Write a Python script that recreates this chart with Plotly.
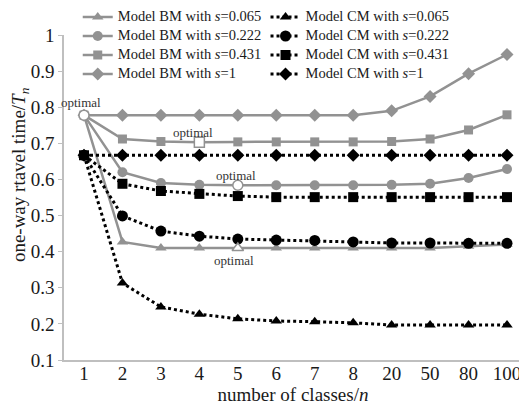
import plotly.graph_objects as go

classes = ["1", "2", "3", "4", "5", "6", "7", "8", "20", "50", "80", "100"]

bm_s0065 = [0.778, 0.427, 0.41, 0.41, 0.41, 0.41, 0.41, 0.41, 0.41, 0.41, 0.415, 0.42]
bm_s0222 = [0.778, 0.62, 0.59, 0.585, 0.584, 0.584, 0.584, 0.584, 0.585, 0.588, 0.604, 0.629]
bm_s0431 = [0.778, 0.712, 0.705, 0.703, 0.704, 0.704, 0.704, 0.704, 0.705, 0.712, 0.737, 0.779]
bm_s1 = [0.778, 0.778, 0.778, 0.778, 0.778, 0.778, 0.778, 0.778, 0.79, 0.83, 0.893, 0.946]

cm_s0065 = [0.667, 0.313, 0.247, 0.227, 0.214, 0.208, 0.206, 0.203, 0.197, 0.197, 0.197, 0.197]
cm_s0222 = [0.667, 0.499, 0.457, 0.443, 0.435, 0.432, 0.431, 0.427, 0.424, 0.424, 0.423, 0.423]
cm_s0431 = [0.667, 0.588, 0.568, 0.56, 0.554, 0.551, 0.551, 0.551, 0.551, 0.551, 0.551, 0.551]
cm_s1 = [0.667, 0.667, 0.667, 0.667, 0.667, 0.667, 0.667, 0.667, 0.667, 0.667, 0.667, 0.667]

s_labels = ["0.065", "0.222", "0.431", "1"]
bm_series = [bm_s0065, bm_s0222, bm_s0431, bm_s1]
cm_series = [cm_s0065, cm_s0222, cm_s0431, cm_s1]
symbols = ["triangle-up", "circle", "square", "diamond"]
bm_optimal_idx = [4, 4, 3, 0]

y_ticks = [0.1, 0.2, 0.3, 0.4, 0.5, 0.6, 0.7, 0.8, 0.9, 1.0]
y_ticktext = ["0.1", "0.2", "0.3", "0.4", "0.5", "0.6", "0.7", "0.8", "0.9", "1"]

GRAY = "#929292"
BLACK = "#000000"
FONT = "Liberation Serif, Times New Roman, serif"
msize = {"triangle-up": 10, "circle": 10, "square": 9, "diamond": 10}
cm_msize = {"triangle-up": 10, "circle": 11, "square": 10, "diamond": 10}


def leg_name(model, s):
    return ('<span style="font-size:14.5px">Model %s with <i>s</i>=%s</span>' % (model, s))


fig = go.Figure()

# BM series (gray solid)
for k in range(4):
    fig.add_trace(go.Scatter(
        x=classes, y=bm_series[k], mode="lines+markers",
        name=leg_name("BM", s_labels[k]), legend="legend", legendrank=k + 1,
        line=dict(color=GRAY, width=2.5),
        marker=dict(symbol=symbols[k], size=msize[symbols[k]], color=GRAY,
                    line=dict(color=GRAY, width=0)),
    ))

# CM series (black dotted); s=0.431 drawn last so it is on top at n=1
cm_draw_order = [0, 1, 3, 2]
for k in cm_draw_order:
    fig.add_trace(go.Scatter(
        x=classes, y=cm_series[k], mode="lines+markers",
        name=leg_name("CM", s_labels[k]), legend="legend2", legendrank=k + 1,
        line=dict(color=BLACK, width=3, dash="dot"),
        marker=dict(symbol=symbols[k], size=cm_msize[symbols[k]], color=BLACK),
    ))

# optimal points (hollow markers) taken from BM series
opt_symbols = ["triangle-up", "circle", "square", "circle"]
for k in range(4):
    i = bm_optimal_idx[k]
    fig.add_trace(go.Scatter(
        x=[classes[i]], y=[bm_series[k][i]], mode="markers", showlegend=False,
        marker=dict(symbol=opt_symbols[k], size=10, color="white",
                    line=dict(color=GRAY, width=1.5)),
    ))

# "optimal" labels (x given as category index)
opt_shift = [(-4, -12), (-2, 10), (-6, 10), (-3, 13)]
for k in range(4):
    i = bm_optimal_idx[k]
    fig.add_annotation(x=i, y=bm_series[k][i], xref="x", yref="y",
                       text="optimal", showarrow=False,
                       xshift=opt_shift[k][0], yshift=opt_shift[k][1],
                       font=dict(family=FONT, size=13, color="#333333"))

# y-axis title as annotation (positioned like the reference)
fig.add_annotation(xref="paper", yref="paper", x=-0.096, y=0.569,
                   xanchor="center", yanchor="middle",
                   text="one-way rtavel time/<i>T<sub>n</sub></i>",
                   textangle=-90, showarrow=False,
                   font=dict(family=FONT, size=19, color="#1a1a1a"))

fig.update_layout(
    template="none",
    width=527, height=408,
    margin=dict(l=56, r=13, t=27, b=56, pad=0, autoexpand=False),
    paper_bgcolor="white", plot_bgcolor="white",
    font=dict(family=FONT, color="#1a1a1a"),
    showlegend=True,
    legend=dict(x=0.03, y=1.10, xanchor="left", yanchor="top",
                bgcolor="rgba(0,0,0,0)", font=dict(family=FONT, size=10, color="#1a1a1a"),
                itemwidth=30, tracegroupgap=0),
    legend2=dict(x=0.44, y=1.10, xanchor="left", yanchor="top",
                 bgcolor="rgba(0,0,0,0)", font=dict(family=FONT, size=10, color="#1a1a1a"),
                 itemwidth=30, tracegroupgap=0),
    xaxis=dict(type="category", categoryorder="array", categoryarray=classes,
               range=[-0.52, 11.39],
               automargin=False,
               showline=True, linecolor="#bfbfbf", linewidth=1.5,
               showgrid=False, zeroline=False, ticks="",
               ticklabelstandoff=-5,
               tickfont=dict(family=FONT, size=19, color="#1a1a1a"),
               title=dict(text="number of classes/<i>n</i>", standoff=2,
                          font=dict(family=FONT, size=19, color="#1a1a1a"))),
    yaxis=dict(range=[0.1, 1.0], tickvals=y_ticks, ticktext=y_ticktext,
               automargin=False,
               showline=True, linecolor="#bfbfbf", linewidth=1.5,
               showgrid=False, zeroline=False,
               ticks="outside", ticklen=4, tickcolor="#bfbfbf",
               tickfont=dict(family=FONT, size=19, color="#1a1a1a")),
)

fig.write_html("out.html")
